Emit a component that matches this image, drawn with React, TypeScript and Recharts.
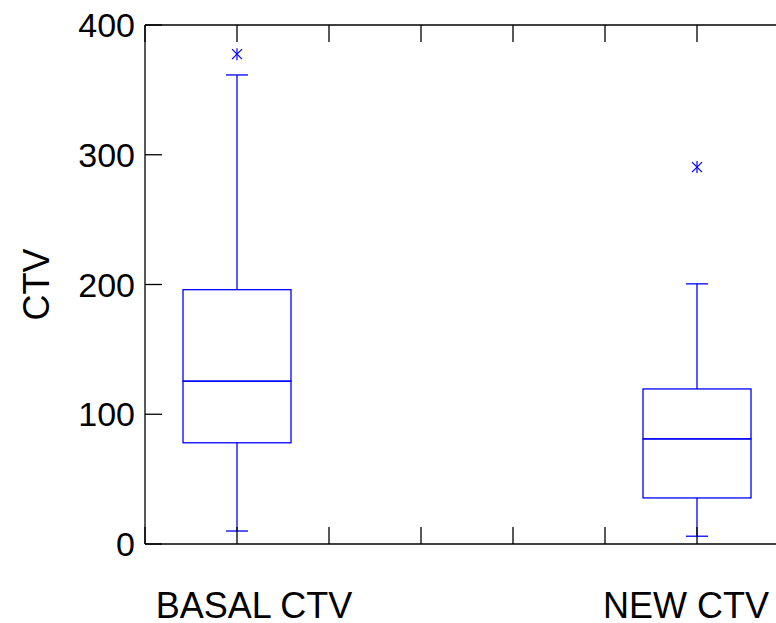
import React from 'react';
import { ComposedChart, Bar, Scatter, XAxis, YAxis } from 'recharts';

const categories = ['BASAL CTV', 'NEW CTV'];
const positions = [1, 6];
const minValues = [10, 6];
const q1Values = [78, 35.5];
const medianValues = [125.5, 81];
const q3Values = [196, 119.5];
const maxValues = [361.5, 200.5];
const outlierValues = [377.5, 290.5];
const yTicks = [0, 100, 200, 300, 400];
const xFrameTicks = [0, 1, 2, 3, 4, 5, 6, 7];

const boxData = categories.map((name, i) => ({
  name,
  pos: positions[i],
  base: minValues[i],
  lowWhisker: q1Values[i] - minValues[i],
  lowBox: medianValues[i] - q1Values[i],
  highBox: q3Values[i] - medianValues[i],
  highWhisker: maxValues[i] - q3Values[i],
}));

const outlierData = categories.map((name, i) => ({ name, pos: positions[i], value: outlierValues[i] }));

const BLUE = '#0000ff';
const AXIS = '#000';
const FONT = '"Liberation Sans", Arial, sans-serif';
const SW = 1.3;
const CAP = 11;
const TICK = 17;
const labelShift: Record<number, number> = { 0: 17, 1: -11 };

const CapShape = (p: any) => {
  const cx = p.x + p.width / 2;
  return <line x1={cx - CAP} x2={cx + CAP} y1={p.y} y2={p.y} stroke={BLUE} strokeWidth={SW} />;
};
const WhiskerShape = (p: any) => {
  const cx = p.x + p.width / 2;
  return <line x1={cx} x2={cx} y1={p.y} y2={p.y + p.height} stroke={BLUE} strokeWidth={SW} />;
};
const TopWhiskerShape = (p: any) => {
  const cx = p.x + p.width / 2;
  return (
    <g stroke={BLUE} strokeWidth={SW}>
      <line x1={cx} x2={cx} y1={p.y} y2={p.y + p.height} />
      <line x1={cx - CAP} x2={cx + CAP} y1={p.y} y2={p.y} />
    </g>
  );
};
const BoxShape = (p: any) => (
  <rect x={p.x} y={p.y} width={p.width} height={p.height} fill="none" stroke={BLUE} strokeWidth={SW} />
);
const Asterisk = (p: any) => {
  const { cx, cy } = p;
  return (
    <g stroke={BLUE} strokeWidth={1.2}>
      <line x1={cx} y1={cy - 6} x2={cx} y2={cy + 6} />
      <line x1={cx - 5} y1={cy - 5} x2={cx + 5} y2={cy + 5} />
      <line x1={cx - 5} y1={cy + 5} x2={cx + 5} y2={cy - 5} />
    </g>
  );
};

const BottomTick = (p: any) => {
  const { x, y, payload } = p;
  const idx = positions.indexOf(payload.value);
  return (
    <g>
      <line x1={x} x2={x} y1={y} y2={y - TICK} stroke={AXIS} strokeWidth={SW} />
      {idx >= 0 && (
        <text x={x + labelShift[idx]} y={y + 74} textAnchor="middle" fontSize={36} fontFamily={FONT} fill="#000">
          {categories[idx]}
        </text>
      )}
    </g>
  );
};

const TopTick = (p: any) => {
  const { x, y } = p;
  return <line x1={x} x2={x} y1={y} y2={y + TICK} stroke={AXIS} strokeWidth={SW} />;
};

const RightTick = (p: any) => {
  const { x, y } = p;
  return <line x1={x} x2={x - TICK} y1={y} y2={y} stroke={AXIS} strokeWidth={SW} />;
};

const LeftTick = (p: any) => {
  const { x, y, payload } = p;
  return (
    <g>
      <line x1={x} x2={x + TICK} y1={y} y2={y} stroke={AXIS} strokeWidth={SW} />
      <text x={x - 10} y={y + 12} textAnchor="end" fontSize={34} fontFamily={FONT} fill="#000">
        {payload.value}
      </text>
    </g>
  );
};

const YLabel = (p: any) => {
  const vb = p.viewBox;
  const cy = vb.y + vb.height / 2;
  const bx = 49;
  return (
    <text x={bx} y={cy} transform={`rotate(-90, ${bx}, ${cy})`} textAnchor="middle" fontSize={36} fontFamily={FONT} fill="#000">
      CTV
    </text>
  );
};

export default function App() {
  return (
    <div style={{ position: 'fixed', left: 0, top: 0, width: 776, height: 623, overflow: 'hidden', background: '#fff' }}>
      <ComposedChart width={800} height={623} data={boxData} margin={{ top: 25, right: 11, bottom: 0, left: 0 }}>
        <XAxis xAxisId="box" dataKey="pos" type="number" domain={[0, 7]} ticks={positions} hide />
        <XAxis
          xAxisId="bottom"
          dataKey="pos"
          type="number"
          domain={[0, 7]}
          ticks={xFrameTicks}
          height={79}
          tickLine={false}
          tickSize={0}
          tickMargin={0}
          axisLine={{ stroke: AXIS, strokeWidth: SW }}
          tick={<BottomTick />}
          interval={0}
        />
        <XAxis
          xAxisId="top"
          orientation="top"
          mirror
          dataKey="pos"
          type="number"
          domain={[0, 7]}
          ticks={xFrameTicks}
          tick={<TopTick />}
          tickLine={false}
          tickSize={0}
          tickMargin={0}
          axisLine={{ stroke: AXIS, strokeWidth: SW }}
          interval={0}
        />
        <YAxis
          yAxisId="left"
          type="number"
          domain={[0, 400]}
          ticks={yTicks}
          width={145}
          tickLine={false}
          tickSize={0}
          tickMargin={0}
          axisLine={{ stroke: AXIS, strokeWidth: SW }}
          tick={<LeftTick />}
          interval={0}
          label={<YLabel />}
        />
        <YAxis
          yAxisId="right"
          orientation="right"
          mirror
          type="number"
          domain={[0, 400]}
          ticks={yTicks}
          tick={<RightTick />}
          tickLine={false}
          tickSize={0}
          tickMargin={0}
          axisLine={{ stroke: AXIS, strokeWidth: SW }}
          interval={0}
        />
        <Bar xAxisId="box" yAxisId="left" dataKey="base" stackId="box" barSize={108} shape={<CapShape />} isAnimationActive={false} />
        <Bar xAxisId="box" yAxisId="left" dataKey="lowWhisker" stackId="box" barSize={108} shape={<WhiskerShape />} isAnimationActive={false} />
        <Bar xAxisId="box" yAxisId="left" dataKey="lowBox" stackId="box" barSize={108} shape={<BoxShape />} isAnimationActive={false} />
        <Bar xAxisId="box" yAxisId="left" dataKey="highBox" stackId="box" barSize={108} shape={<BoxShape />} isAnimationActive={false} />
        <Bar xAxisId="box" yAxisId="left" dataKey="highWhisker" stackId="box" barSize={108} shape={<TopWhiskerShape />} isAnimationActive={false} />
        <Scatter xAxisId="box" yAxisId="left" data={outlierData} dataKey="value" shape={<Asterisk />} isAnimationActive={false} />
      </ComposedChart>
    </div>
  );
}
